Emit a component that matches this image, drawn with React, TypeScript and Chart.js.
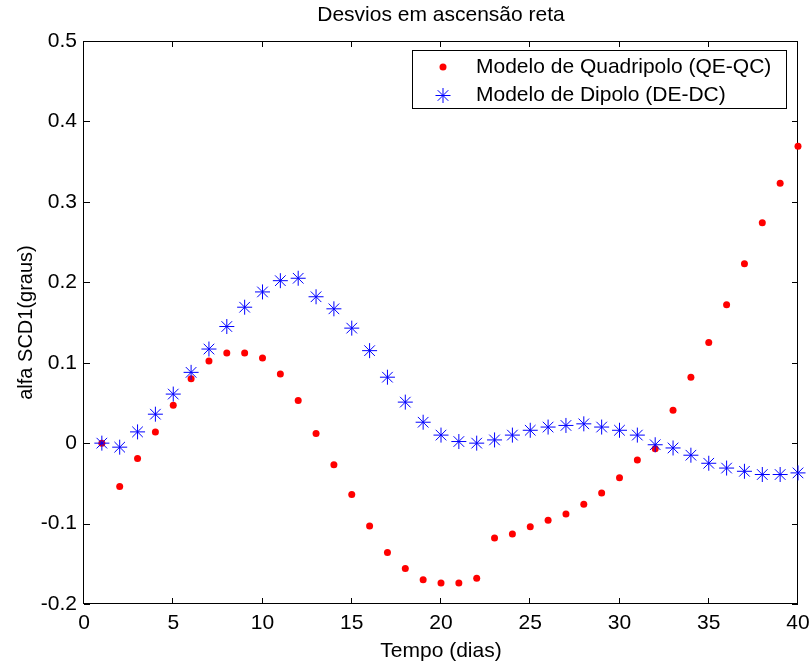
import React, { useEffect, useRef } from 'react';
import { Chart, registerables } from 'chart.js';
import { drawPoint } from 'chart.js/helpers';

Chart.register(...registerables);

const chartTitle = 'Desvios em ascensão reta';
const xAxisTitle = 'Tempo (dias)';
const yAxisTitle = 'alfa SCD1(graus)';
const seriesLabels = ['Modelo de Quadripolo (QE-QC)', 'Modelo de Dipolo (DE-DC)'];

const days = [1, 2, 3, 4, 5, 6, 7, 8, 9, 10, 11, 12, 13, 14, 15, 16, 17, 18, 19, 20,
  21, 22, 23, 24, 25, 26, 27, 28, 29, 30, 31, 32, 33, 34, 35, 36, 37, 38, 39, 40];

const quadripolo = [0.000, -0.054, -0.019, 0.014, 0.047, 0.080, 0.102, 0.112, 0.112, 0.106,
  0.086, 0.053, 0.012, -0.027, -0.064, -0.103, -0.136, -0.156, -0.170, -0.174,
  -0.174, -0.168, -0.118, -0.113, -0.104, -0.096, -0.088, -0.076, -0.062, -0.043,
  -0.021, -0.007, 0.041, 0.082, 0.125, 0.172, 0.223, 0.274, 0.323, 0.369];

const dipolo = [0.000, -0.005, 0.014, 0.036, 0.061, 0.088, 0.117, 0.145, 0.169, 0.188,
  0.202, 0.205, 0.182, 0.167, 0.143, 0.115, 0.082, 0.051, 0.026, 0.010,
  0.002, 0.000, 0.004, 0.010, 0.016, 0.020, 0.022, 0.024, 0.020, 0.016,
  0.010, -0.002, -0.006, -0.015, -0.025, -0.031, -0.035, -0.039, -0.039, -0.037];

const xTicks = [0, 5, 10, 15, 20, 25, 30, 35, 40];
const xTickLabels = ['0', '5', '10', '15', '20', '25', '30', '35', '40'];
const yTicks = [-0.2, -0.1, 0, 0.1, 0.2, 0.3, 0.4, 0.5];
const yTickLabels = ['-0.2', '-0.1', '0', '0.1', '0.2', '0.3', '0.4', '0.5'];

const FONT = '"Liberation Sans", Arial, Helvetica, sans-serif';

const framePlugin = {
  id: 'frameTicks',
  beforeDatasetsDraw(chart: any) {
    const { ctx, chartArea, scales } = chart;
    const { left, right, top, bottom } = chartArea;
    ctx.save();
    ctx.strokeStyle = '#000';
    ctx.lineWidth = 1;
    ctx.strokeRect(left - 0.5, top + 0.5, right - left, bottom - top - 1);
    const tl = 6;
    ctx.beginPath();
    xTicks.forEach((v) => {
      const px = Math.round(scales.x.getPixelForValue(v)) - 0.5;
      ctx.moveTo(px, bottom);
      ctx.lineTo(px, bottom - tl);
      ctx.moveTo(px, top);
      ctx.lineTo(px, top + tl);
    });
    yTicks.forEach((v) => {
      const py = Math.round(scales.y.getPixelForValue(v)) + 0.5;
      ctx.moveTo(left, py);
      ctx.lineTo(left + tl, py);
      ctx.moveTo(right, py);
      ctx.lineTo(right - tl, py);
    });
    ctx.stroke();
    ctx.restore();
  },
};

const legendPlugin = {
  id: 'boxLegend',
  afterDatasetsDraw(chart: any) {
    const { ctx, chartArea } = chart;
    ctx.save();
    ctx.font = `21px ${FONT}`;
    const tw = Math.max(...seriesLabels.map((t) => ctx.measureText(t).width));
    const w = Math.round(64 + tw + 15);
    const h = 58;
    const right = chartArea.right - 12;
    const top = Math.round(chartArea.top + 9);
    const left = Math.round(right - w);
    ctx.fillStyle = '#fff';
    ctx.fillRect(left, top, w, h);
    ctx.strokeStyle = '#000';
    ctx.lineWidth = 1;
    ctx.strokeRect(left + 0.5, top + 0.5, w, h);
    chart.data.datasets.forEach((ds: any, i: number) => {
      const y = top + 17 + i * 28.5;
      ctx.fillStyle = ds.pointBackgroundColor;
      ctx.strokeStyle = ds.pointBorderColor;
      ctx.lineWidth = ds.pointBorderWidth;
      drawPoint(ctx, {
        pointStyle: ds.pointStyle,
        radius: ds.pointRadius,
        borderWidth: ds.pointBorderWidth,
        rotation: 0,
      } as any, left + 31, y);
      ctx.fillStyle = '#000';
      ctx.textBaseline = 'middle';
      ctx.textAlign = 'left';
      ctx.fillText(ds.label, left + 64, y);
    });
    ctx.restore();
  },
};

export default function App() {
  const canvasRef = useRef<HTMLCanvasElement | null>(null);

  useEffect(() => {
    if (!canvasRef.current) return;
    const chart = new Chart(canvasRef.current, {
      type: 'scatter',
      data: {
        datasets: [
          {
            label: seriesLabels[0],
            data: days.map((d, i) => ({ x: d, y: quadripolo[i] })),
            pointStyle: 'circle',
            pointRadius: 3.5,
            pointBackgroundColor: '#ff0000',
            pointBorderColor: '#ff0000',
            pointBorderWidth: 0,
            backgroundColor: '#ff0000',
            borderColor: '#ff0000',
            showLine: false,
            clip: false,
            order: 1,
          } as any,
          {
            label: seriesLabels[1],
            data: days.map((d, i) => ({ x: d, y: dipolo[i] })),
            pointStyle: 'star',
            pointRadius: 7.5,
            pointBackgroundColor: '#0000ff',
            pointBorderColor: '#0000ff',
            pointBorderWidth: 1,
            backgroundColor: '#0000ff',
            borderColor: '#0000ff',
            showLine: false,
            clip: false,
            order: 0,
          } as any,
        ],
      },
      options: {
        responsive: false,
        animation: false,
        layout: { padding: { left: 0, right: 13, top: 0, bottom: 0 } },
        plugins: {
          legend: { display: false },
          tooltip: { enabled: false },
          title: { display: false },
        },
        scales: {
          x: {
            type: 'linear',
            position: 'bottom',
            min: 0,
            max: 40,
            grid: { display: false, drawTicks: false },
            border: { display: false },
            afterBuildTicks: (s: any) => { s.ticks = xTicks.map((v) => ({ value: v })); },
            ticks: {
              color: '#000',
              font: { family: FONT, size: 21 },
              padding: 7,
              maxRotation: 0,
              autoSkip: false,
              callback: (v: any) => xTickLabels[xTicks.indexOf(Number(v))] ?? '',
            },
            title: {
              display: true,
              text: xAxisTitle,
              color: '#000',
              font: { family: FONT, size: 21 },
              padding: { top: 0, bottom: 2 },
            },
            afterFit: (s: any) => {
              s.height = 62;
              s.paddingLeft = 0;
              s.paddingRight = 0;
            },
          },
          x2: {
            type: 'linear',
            position: 'top',
            display: true,
            min: 0,
            max: 40,
            grid: { display: false, drawTicks: false },
            border: { display: false },
            ticks: { display: false },
            title: {
              display: true,
              text: chartTitle,
              color: '#000',
              font: { family: FONT, size: 21 },
              padding: { top: 3, bottom: 0 },
            },
            afterFit: (s: any) => {
              s.height = 41;
              s.paddingLeft = 0;
              s.paddingRight = 0;
            },
          },
          y: {
            type: 'linear',
            position: 'left',
            min: -0.2,
            max: 0.5,
            grid: { display: false, drawTicks: false },
            border: { display: false },
            afterBuildTicks: (s: any) => { s.ticks = yTicks.map((v) => ({ value: v })); },
            ticks: {
              color: '#000',
              font: { family: FONT, size: 21 },
              padding: 7,
              autoSkip: false,
              callback: (v: any) => {
                const idx = yTicks.findIndex((t) => Math.abs(t - Number(v)) < 1e-9);
                return idx >= 0 ? yTickLabels[idx] : '';
              },
            },
            title: {
              display: true,
              text: yAxisTitle,
              color: '#000',
              font: { family: FONT, size: 20 },
              padding: { top: 14, bottom: 0 },
            },
            afterFit: (s: any) => {
              s.width = 84;
              s.paddingTop = 0;
              s.paddingBottom = 0;
            },
          },
        },
      } as any,
      plugins: [framePlugin, legendPlugin],
    });
    return () => chart.destroy();
  }, []);

  return (
    <div style={{ position: 'fixed', left: 0, top: 0, width: 811, height: 666, background: '#fff' }}>
      <canvas ref={canvasRef} width={811} height={666} style={{ display: 'block' }} />
    </div>
  );
}
